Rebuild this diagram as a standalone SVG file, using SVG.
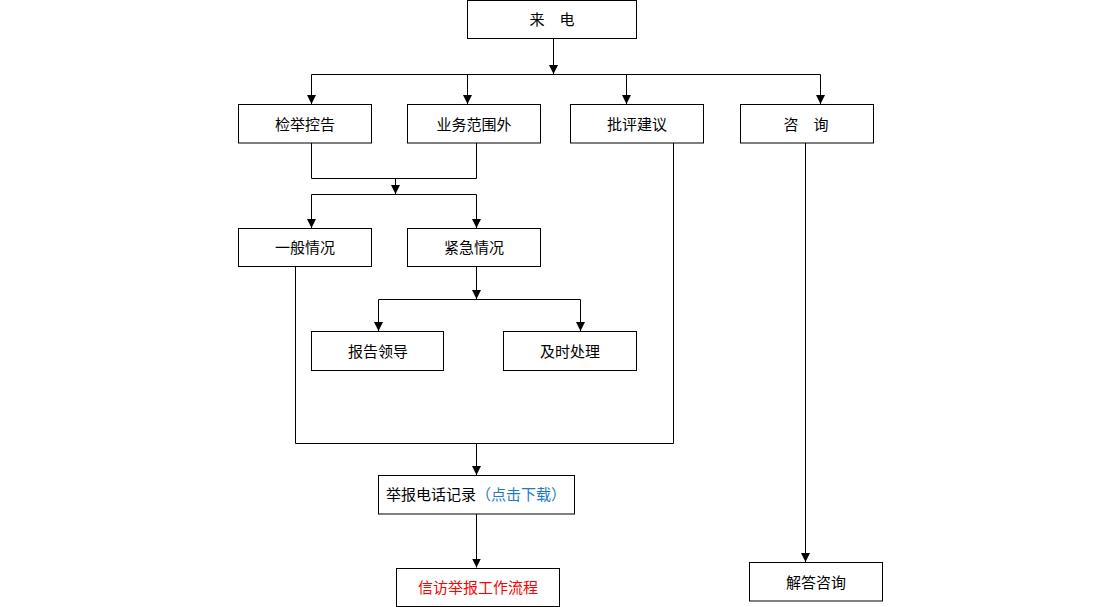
<svg xmlns="http://www.w3.org/2000/svg" width="1120" height="607" viewBox="0 0 1120 607">
<style>
.box{fill:#fff;stroke:#000;stroke-width:1}
.t{font-family:"Liberation Sans","Noto Sans CJK SC",sans-serif;font-size:15px;fill:#000;text-anchor:middle}
.c{fill:none;stroke:#000;stroke-width:1}
.blue{fill:#1f7bc8}
.red{fill:#ff0000}
</style>
<defs>
<marker id="ah" markerUnits="userSpaceOnUse" markerWidth="9" markerHeight="9" refX="9" refY="4.5" orient="auto">
<path d="M0,0 L9,4.5 L0,9 z" fill="#000"/>
</marker>
</defs>
<rect width="1120" height="607" fill="#fff"/>
<g id="connectors">
<line class="c" x1="553.5" y1="38.5" x2="553.5" y2="74" marker-end="url(#ah)"/>
<line class="c" x1="311.5" y1="74.5" x2="820.5" y2="74.5"/>
<line class="c" x1="311.5" y1="74.5" x2="311.5" y2="104" marker-end="url(#ah)"/>
<line class="c" x1="467.5" y1="74.5" x2="467.5" y2="104" marker-end="url(#ah)"/>
<line class="c" x1="626.5" y1="74.5" x2="626.5" y2="104" marker-end="url(#ah)"/>
<line class="c" x1="820.5" y1="74.5" x2="820.5" y2="104" marker-end="url(#ah)"/>
<polyline class="c" points="311.5,143 311.5,178.5 476.5,178.5 476.5,143"/>
<line class="c" x1="395.5" y1="178.5" x2="395.5" y2="194" marker-end="url(#ah)"/>
<line class="c" x1="311.5" y1="194.5" x2="476.5" y2="194.5"/>
<line class="c" x1="311.5" y1="194.5" x2="311.5" y2="228" marker-end="url(#ah)"/>
<line class="c" x1="476.5" y1="194.5" x2="476.5" y2="228" marker-end="url(#ah)"/>
<line class="c" x1="476.5" y1="266" x2="476.5" y2="299" marker-end="url(#ah)"/>
<line class="c" x1="378.5" y1="299.5" x2="580.5" y2="299.5"/>
<line class="c" x1="378.5" y1="299.5" x2="378.5" y2="331" marker-end="url(#ah)"/>
<line class="c" x1="580.5" y1="299.5" x2="580.5" y2="331" marker-end="url(#ah)"/>
<polyline class="c" points="295.5,266 295.5,443.5 673.5,443.5 673.5,143"/>
<line class="c" x1="476.5" y1="443.5" x2="476.5" y2="475" marker-end="url(#ah)"/>
<line class="c" x1="476.5" y1="514" x2="476.5" y2="567.5" marker-end="url(#ah)"/>
<line class="c" x1="805.5" y1="143" x2="805.5" y2="562" marker-end="url(#ah)"/>
</g>
<g id="n-laidian"><rect class="box" x="467.5" y="0.5" width="169" height="38"/><text class="t" x="552" y="24.5">来　电</text></g>
<g id="n-jianju"><rect class="box" x="238.5" y="104.5" width="133" height="38.5"/><text class="t" x="305" y="129.5">检举控告</text></g>
<g id="n-yewu"><rect class="box" x="407.5" y="104.5" width="133" height="38.5"/><text class="t" x="474" y="129.5">业务范围外</text></g>
<g id="n-piping"><rect class="box" x="570.5" y="104.5" width="133" height="38.5"/><text class="t" x="637" y="129.5">批评建议</text></g>
<g id="n-zixun"><rect class="box" x="740.5" y="104.5" width="133" height="38.5"/><text class="t" x="806" y="129.5">咨　询</text></g>
<g id="n-yiban"><rect class="box" x="238.5" y="228.5" width="133" height="38"/><text class="t" x="305" y="253">一般情况</text></g>
<g id="n-jinji"><rect class="box" x="407.5" y="228.5" width="133" height="38"/><text class="t" x="474" y="253">紧急情况</text></g>
<g id="n-baogao"><rect class="box" x="311.5" y="331.5" width="132" height="39"/><text class="t" x="378" y="356.5">报告领导</text></g>
<g id="n-jishi"><rect class="box" x="503.5" y="331.5" width="133" height="39"/><text class="t" x="570" y="356.5">及时处理</text></g>
<g id="n-jilu"><rect class="box" x="378.5" y="475.5" width="196" height="38.5"/><text class="t" x="476" y="500">举报电话记录<tspan class="blue">（点击下载）</tspan></text></g>
<g id="n-liucheng"><rect class="box" x="396.5" y="568.5" width="163" height="38"/><text class="t red" x="478" y="593">信访举报工作流程</text></g>
<g id="n-jieda"><rect class="box" x="749.5" y="562.5" width="133" height="38.5"/><text class="t" x="816" y="587.5">解答咨询</text></g>
</svg>
